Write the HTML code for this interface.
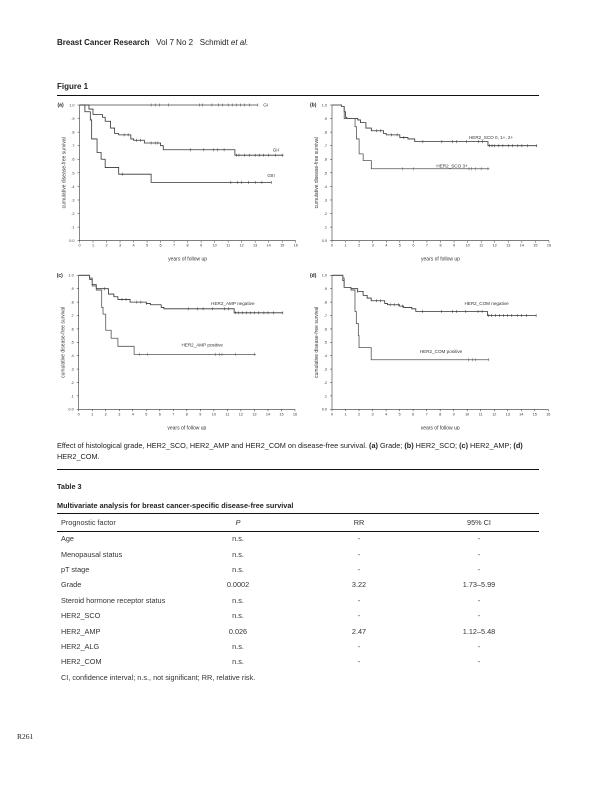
<!DOCTYPE html>
<html><head><meta charset="utf-8">
<style>
body{margin:0;width:612px;height:792px;background:#fff;position:relative;font-family:"Liberation Sans",Arial,sans-serif;color:#222;overflow:hidden}
.t{position:absolute;white-space:nowrap}
.rule{position:absolute;left:57px;width:482px;background:#111}
table{position:absolute;left:57px;top:514px;width:482px;border-collapse:collapse;font-size:7.3px;color:#333;table-layout:fixed}
td{height:15.4px;padding:0 0 0 4px;white-space:nowrap}
td.c{text-align:center;padding:0}
</style></head><body>
<div class="t" style="left:57px;top:38px;font-size:8px"><b>Breast Cancer Research</b>&nbsp;&nbsp; Vol 7 No 2 &nbsp; Schmidt <i>et al.</i></div>
<div class="t" style="left:57px;top:82px;font-size:8px;font-weight:bold">Figure 1</div>
<div class="rule" style="top:95px;height:1px"></div>
<svg id="fig" width="612" height="430" style="position:absolute;left:0;top:0"></svg>
<div class="t" style="left:57px;top:441px;font-size:7.3px;line-height:10.5px;white-space:normal;width:490px">Effect of histological grade, HER2_SCO, HER2_AMP and HER2_COM on disease-free survival. <b>(a)</b> Grade; <b>(b)</b> HER2_SCO; <b>(c)</b> HER2_AMP; <b>(d)</b> HER2_COM.</div>
<div class="rule" style="top:469px;height:1px"></div>
<div class="t" style="left:57px;top:482px;font-size:7.3px;font-weight:bold">Table 3</div>
<div class="t" style="left:57px;top:501px;font-size:7.3px;font-weight:bold">Multivariate analysis for breast cancer-specific disease-free survival</div>
<div class="rule" style="top:513px;height:1px"></div>
<div class="rule" style="top:531px;height:1px"></div>
<table>
<colgroup><col style="width:120px"><col style="width:122px"><col style="width:120px"><col style="width:120px"></colgroup>
<tr><td style="height:17px">Prognostic factor</td><td class="c"><i>P</i></td><td class="c">RR</td><td class="c">95% CI</td></tr>
<tr><td>Age</td><td class="c">n.s.</td><td class="c">-</td><td class="c">-</td></tr>
<tr><td>Menopausal status</td><td class="c">n.s.</td><td class="c">-</td><td class="c">-</td></tr>
<tr><td>pT stage</td><td class="c">n.s.</td><td class="c">-</td><td class="c">-</td></tr>
<tr><td>Grade</td><td class="c">0.0002</td><td class="c">3.22</td><td class="c">1.73–5.99</td></tr>
<tr><td>Steroid hormone receptor status</td><td class="c">n.s.</td><td class="c">-</td><td class="c">-</td></tr>
<tr><td>HER2_SCO</td><td class="c">n.s.</td><td class="c">-</td><td class="c">-</td></tr>
<tr><td>HER2_AMP</td><td class="c">0.026</td><td class="c">2.47</td><td class="c">1.12–5.48</td></tr>
<tr><td>HER2_ALG</td><td class="c">n.s.</td><td class="c">-</td><td class="c">-</td></tr>
<tr><td>HER2_COM</td><td class="c">n.s.</td><td class="c">-</td><td class="c">-</td></tr>
<tr><td colspan="4">CI, confidence interval; n.s., not significant; RR, relative risk.</td></tr>
</table>
<div class="t" style="left:17px;top:732px;font-size:7.5px;font-family:'Liberation Serif',serif">R261</div>
<script>
// Panel (a) Grade
const aGI_t=[], aGI_s=[], aGI_end=13.2, aGI_c=[5.3,5.6,5.9,6.6,8.9,9.1,9.8,10.3,10.6,11,11.3,11.6,11.9,12.2,12.6,13.2];
const aGII_t=[0.7,1.0,1.7,1.9,2.3,2.6,2.9,3.8,4.0,4.8,6.0,6.2,11.5];
const aGII_s=[0.97,0.93,0.91,0.88,0.83,0.79,0.78,0.75,0.74,0.72,0.70,0.67,0.63];
const aGII_end=15.1, aGII_c=[3.3,3.6,4.2,4.5,5.3,5.6,5.8,8.2,9.2,9.9,10.2,10.7,11.6,11.8,12.2,12.6,13,13.3,13.6,14,14.5,15];
const aGIII_t=[0.4,0.8,0.9,1.3,1.6,1.9,2.9,5.3];
const aGIII_s=[0.95,0.89,0.75,0.65,0.60,0.54,0.49,0.43];
const aGIII_end=14.2, aGIII_c=[3.2,11.2,11.7,12,12.5,13,13.5,14.2];
// Panel (b) HER2_SCO
const bNeg_t=[0.7,0.9,1.0,1.1,1.9,2.1,2.5,2.9,3.8,4.0,5.0,5.6,6.1,11.5];
const bNeg_s=[0.99,0.95,0.91,0.90,0.89,0.87,0.83,0.81,0.79,0.78,0.76,0.75,0.73,0.70];
const bNeg_end=15.1, bNeg_c=[3.3,3.6,4.4,4.8,5.3,6.7,8.1,8.9,9.2,9.9,10.8,11.1,11.6,11.8,12,12.3,12.6,13,13.3,13.7,14,14.4,15.1];
const bPos_t=[0.7,0.9,1.7,1.8,2.0,2.3,2.9];
const bPos_s=[0.99,0.90,0.84,0.75,0.64,0.59,0.53];
const bPos_end=11.6, bPos_c=[5.2,6.0,10.1,10.3,10.6,11,11.5];
// Panel (c) HER2_AMP
const cNeg_t=[0.8,1.0,1.3,2.2,2.6,2.9,3.8,5.0,5.3,6.1,6.3,11.5];
const cNeg_s=[0.97,0.93,0.90,0.86,0.84,0.82,0.80,0.79,0.78,0.76,0.75,0.72];
const cNeg_end=15.1, cNeg_c=[1.9,3.2,3.5,4.3,4.6,5.0,8.1,8.8,9.2,9.9,10.8,11.1,11.6,11.8,12.1,12.4,12.7,13,13.3,13.7,14,14.4,15.1];
const cPos_t=[0.8,1.0,1.3,1.7,1.8,2.0,2.4,2.9,4.1];
const cPos_s=[0.98,0.92,0.89,0.76,0.71,0.59,0.53,0.47,0.41];
const cPos_end=13.1, cPos_c=[4.5,5.1,10.1,10.4,10.6,11.6,13];
// Panel (d) HER2_COM
const dNeg_t=[0.8,0.9,1.4,1.9,2.3,2.6,2.9,3.9,4.1,5.0,5.3,5.9,6.2,11.5];
const dNeg_s=[0.96,0.91,0.90,0.88,0.85,0.83,0.81,0.79,0.78,0.77,0.76,0.75,0.73,0.70];
const dNeg_end=15.1, dNeg_c=[1.9,3.3,3.6,4.3,4.6,4.9,5.2,6.7,8.1,8.9,9.2,9.9,10.8,11.1,11.6,11.8,12.1,12.4,12.7,13,13.3,13.7,14,14.4,15.1];
const dPos_t=[0.8,0.9,1.4,1.7,1.8,1.95,2.0,2.9];
const dPos_s=[0.98,0.91,0.89,0.73,0.64,0.55,0.46,0.37];
const dPos_end=11.6, dPos_c=[10.1,10.4,10.6,11.6];
const yTicks=["0.0",".1",".2",".3",".4",".5",".6",".7",".8",".9","1.0"];
const xTicks=["0","1","2","3","4","5","6","7","8","9","10","11","12","13","14","15","16"];

const NS="http://www.w3.org/2000/svg";
const svg=document.getElementById('fig');
function mk(tag,attrs,parent){const e=document.createElementNS(NS,tag);for(const k in attrs)e.setAttribute(k,attrs[k]);(parent||svg).appendChild(e);return e;}
function panel(name,label,x0,x16,y1,y0,curves,labels){
  const g=mk('g',{});
  
  
  const X=v=>x0+(x16-x0)*v/16, Y=v=>y0-(y0-y1)*v;
  const pl=mk('text',{x:x0-22,y:y1+1.5,'font-size':5,'font-weight':'bold',fill:'#222'},g);pl.textContent=label;
  
  
  mk('line',{x1:x0,y1:y1,x2:x0,y2:y0,stroke:'#333','stroke-width':0.6},g);
  mk('line',{x1:x0,y1:y0,x2:x16,y2:y0,stroke:'#333','stroke-width':0.6},g);
  yTicks.forEach((t,i)=>{const yy=Y(i/10);mk('line',{x1:x0-2,y1:yy,x2:x0,y2:yy,stroke:'#333','stroke-width':0.5},g);
    const tx=mk('text',{x:x0-5,y:yy+1.4,'font-size':3.8,'text-anchor':'end',fill:'#333'},g);tx.textContent=t;
    
    });
  xTicks.forEach((t,i)=>{const xx=X(i);mk('line',{x1:xx,y1:y0,x2:xx,y2:y0+2,stroke:'#333','stroke-width':0.5},g);
    const tx=mk('text',{x:xx,y:y0+6,'font-size':3.8,'text-anchor':'middle',fill:'#333'},g);tx.textContent=t;
    
    });
  const xt=mk('text',{x:(x0+x16)/2,y:y0+20,'font-size':5,'text-anchor':'middle',fill:'#333'},g);xt.textContent='years of follow up';
  
  
  const ym=(y0+y1)/2, yx=x0-14;
  const yt=mk('text',{x:yx,y:ym,'font-size':5,'text-anchor':'middle',fill:'#333',transform:`rotate(-90 ${yx} ${ym})`},g);yt.textContent='cumulative disease-free survival';
  
  
  curves.forEach(c=>{
    let d=`M${X(0)},${Y(1)}`;
    c.t.forEach((t,i)=>{d+=` H${X(t)} V${Y(c.s[i])}`;});
    d+=` H${X(c.end)}`;
    const p=mk('path',{d:d,fill:'none',stroke:c.col,'stroke-width':0.8},g);
    
    
    c.c.forEach(ct=>{let sv=1;c.t.forEach((t,i)=>{if(t<=ct)sv=c.s[i];});
      const m=mk('line',{x1:X(ct),y1:Y(sv)-1.5,x2:X(ct),y2:Y(sv)+1.5,stroke:c.col,'stroke-width':0.5},g);
      
      });
  });
  labels.forEach(l=>{const t=mk('text',{x:X(l[1]),y:Y(l[2])+1.5,'font-size':4.6,fill:'#333'},g);t.textContent=l[0];
    
    });
}
panel('panel-a-grade','(a)',79.5,295.7,105,240.7,[
 {name:'curve-gi',t:aGI_t,s:aGI_s,end:aGI_end,c:aGI_c,col:'#444'},
 {name:'curve-gii',t:aGII_t,s:aGII_s,end:aGII_end,c:aGII_c,col:'#333'},
 {name:'curve-giii',t:aGIII_t,s:aGIII_s,end:aGIII_end,c:aGIII_c,col:'#333'}],
 [['GI',13.6,1.0],['GII',14.3,0.67],['GIII',13.9,0.48]]);
panel('panel-b-her2-sco','(b)',332,549,105,240.7,[
 {name:'curve-sco-neg',t:bNeg_t,s:bNeg_s,end:bNeg_end,c:bNeg_c,col:'#333'},
 {name:'curve-sco-pos',t:bPos_t,s:bPos_s,end:bPos_end,c:bPos_c,col:'#555'}],
 [['HER2_SCO 0, 1+, 2+',10.1,0.76],['HER2_SCO 3+',7.7,0.55]]);
panel('panel-c-her2-amp','(c)',78.7,295,275.3,409.3,[
 {name:'curve-amp-neg',t:cNeg_t,s:cNeg_s,end:cNeg_end,c:cNeg_c,col:'#333'},
 {name:'curve-amp-pos',t:cPos_t,s:cPos_s,end:cPos_end,c:cPos_c,col:'#555'}],
 [['HER2_AMP  negative',9.8,0.79],['HER2_AMP  positive',7.6,0.48]]);
panel('panel-d-her2-com','(d)',332,548.3,275.3,409.3,[
 {name:'curve-com-neg',t:dNeg_t,s:dNeg_s,end:dNeg_end,c:dNeg_c,col:'#333'},
 {name:'curve-com-pos',t:dPos_t,s:dPos_s,end:dPos_end,c:dPos_c,col:'#555'}],
 [['HER2_COM  negative',9.8,0.79],['HER2_COM  positive',6.5,0.43]]);
</script>
</body></html>
